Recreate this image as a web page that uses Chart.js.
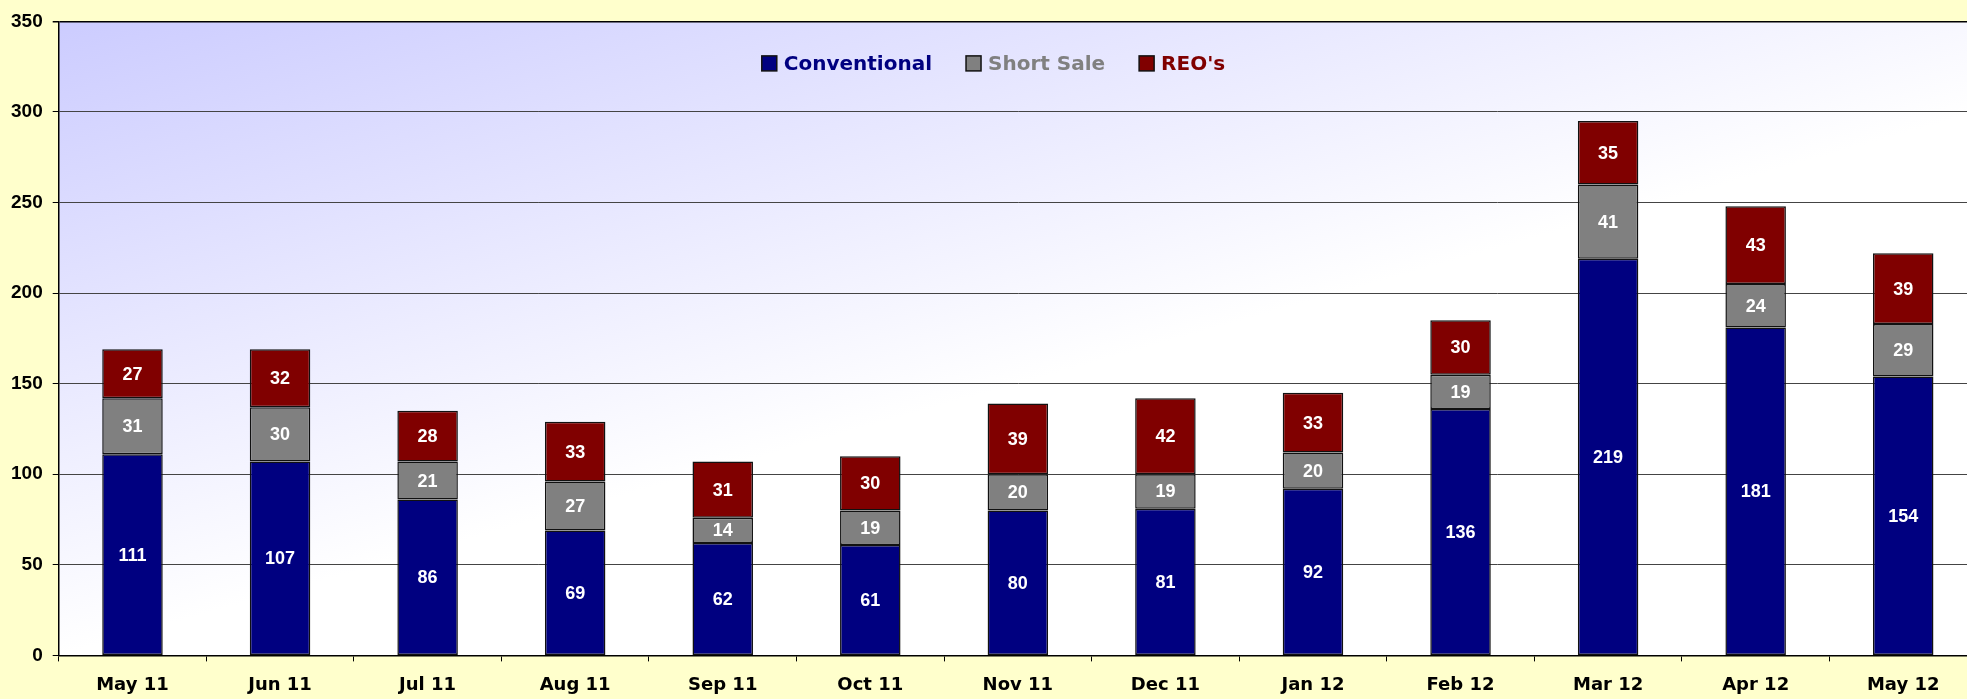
<!DOCTYPE html>
<html>
<head>
<meta charset="utf-8">
<script src="https://cdn.jsdelivr.net/npm/chart.js@4.4.0/dist/chart.umd.min.js"></script>
<style>
html, body { margin:0; padding:0; overflow:hidden; background:#FFFFCC; }
#wrap { position:relative; width:1977px; height:699px; }
</style>
</head>
<body>
<div id="wrap"><canvas id="c"></canvas></div>
<script>
const categories = ["May 11","Jun 11","Jul 11","Aug 11","Sep 11","Oct 11","Nov 11","Dec 11","Jan 12","Feb 12","Mar 12","Apr 12","May 12"];
const conventional = [111,107,86,69,62,61,80,81,92,136,219,181,154];
const shortSale = [31,30,21,27,14,19,20,19,20,19,41,24,29];
const reos = [27,32,28,33,31,30,39,42,33,30,35,43,39];
const seriesNames = ["Conventional","Short Sale","REO's"];
const seriesColors = ["#000080","#808080","#800000"];

const bgPlugin = {
  id: 'plotBg',
  beforeDraw(chart) {
    const {ctx, chartArea: a} = chart;
    const g = ctx.createLinearGradient(a.left, a.top, a.left + 166, a.top + 587);
    g.addColorStop(0, '#CCCCFF');
    g.addColorStop(1, '#FFFFFF');
    ctx.save();
    ctx.fillStyle = g;
    ctx.fillRect(a.left, a.top, a.right - a.left, a.bottom - a.top);
    ctx.restore();
  }
};

const labelPlugin = {
  id: 'barLabels',
  afterDatasetsDraw(chart) {
    const ctx = chart.ctx;
    ctx.save();
    ctx.font = 'bold 18px "Liberation Sans", Arial, sans-serif';
    ctx.fillStyle = '#FFFFFF';
    ctx.textAlign = 'center';
    ctx.textBaseline = 'middle';
    chart.data.datasets.forEach((ds, di) => {
      const meta = chart.getDatasetMeta(di);
      meta.data.forEach((el, i) => {
        const y = (el.y + el.base) / 2;
        ctx.fillText(String(ds.data[i]), el.x, y + 1);
      });
    });
    ctx.restore();
  }
};

// legend drawn inside the plot area, horizontally, near the top
const inLegendPlugin = {
  id: 'inLegend',
  afterDraw(chart) {
    const ctx = chart.ctx;
    const a = chart.chartArea;
    const box = 15, gapText = 7, gapItem = 34;
    ctx.save();
    ctx.font = 'bold 20px "DejaVu Sans", sans-serif';
    ctx.textBaseline = 'middle';
    ctx.textAlign = 'left';
    const items = chart.data.datasets.map((ds, i) => ({
      text: ds.label, fill: ds.backgroundColor, color: seriesColors[i],
      w: ctx.measureText(ds.label).width
    }));
    let total = 0;
    items.forEach((it, i) => { total += box + gapText + it.w + (i < items.length - 1 ? gapItem : 0); });
    let x = chart.width / 2 + 5 - total / 2;
    const cy = a.top + 42;
    items.forEach((it) => {
      ctx.fillStyle = it.fill;
      ctx.fillRect(x, cy - box / 2, box, box);
      ctx.strokeStyle = '#111111';
      ctx.lineWidth = 1.5;
      ctx.strokeRect(x, cy - box / 2, box, box);
      ctx.fillStyle = it.color;
      ctx.fillText(it.text, x + box + gapText, cy + 1);
      x += box + gapText + it.w + gapItem;
    });
    ctx.restore();
  }
};

const dsCommon = { borderColor: '#111111', borderWidth: 1.5, barPercentage: 0.41, categoryPercentage: 1.0, borderSkipped: false };

new Chart(document.getElementById('c'), {
  type: 'bar',
  data: {
    labels: categories,
    datasets: [
      Object.assign({ label: seriesNames[0], data: conventional, backgroundColor: seriesColors[0] }, dsCommon),
      Object.assign({ label: seriesNames[1], data: shortSale, backgroundColor: seriesColors[1] }, dsCommon),
      Object.assign({ label: seriesNames[2], data: reos, backgroundColor: seriesColors[2] }, dsCommon)
    ]
  },
  options: {
    responsive: true,
    maintainAspectRatio: false,
    animation: false,
    layout: { padding: { left: 1, top: 20, right: 0, bottom: -10 } },
    plugins: {
      tooltip: { enabled: false },
      legend: { display: false }
    },
    scales: {
      x: {
        stacked: true,
        offset: true,
        grid: { display: true, drawOnChartArea: false, drawTicks: true, tickLength: 6, tickColor: '#000', offset: true, lineWidth: 1 },
        border: { display: true, color: '#000', width: 1.5 },
        ticks: { color: '#000', padding: 13, font: { family: '"DejaVu Sans", sans-serif', weight: 'bold', size: 18 }, maxRotation: 0, autoSkip: false }
      },
      y: {
        stacked: true,
        min: 0, max: 350,
        grid: {
          color: (c) => (c.tick && c.tick.value === 350) ? '#000000' : '#444444',
          lineWidth: (c) => (c.tick && c.tick.value === 350) ? 1.5 : 1,
          tickLength: 6, tickColor: '#000'
        },
        border: { display: true, color: '#000', width: 1.5 },
        ticks: { stepSize: 50, color: '#000', padding: 10, font: { family: '"Liberation Sans", Arial, sans-serif', weight: 'bold', size: 19 } }
      }
    }
  },
  plugins: [bgPlugin, labelPlugin, inLegendPlugin]
});
</script>
</body>
</html>
